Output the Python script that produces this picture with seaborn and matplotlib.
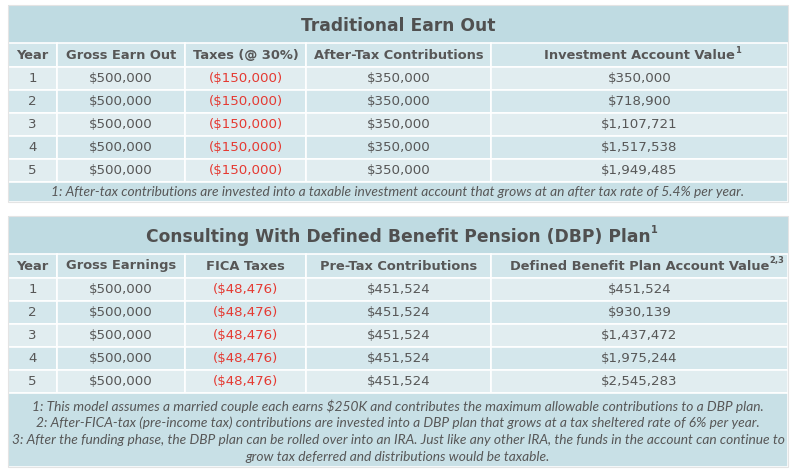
import matplotlib
matplotlib.use("Agg")
import matplotlib.pyplot as plt
import seaborn as sns
from matplotlib.patches import Rectangle

# Table 1: traditional earn out
years = [1, 2, 3, 4, 5]
gross_earn_out = [500000, 500000, 500000, 500000, 500000]
taxes_30 = [150000, 150000, 150000, 150000, 150000]
after_tax_contrib = [350000, 350000, 350000, 350000, 350000]
investment_value = [350000, 718900, 1107721, 1517538, 1949485]

# Table 2: consulting with DBP plan
gross_earnings = [500000, 500000, 500000, 500000, 500000]
fica_taxes = [48476, 48476, 48476, 48476, 48476]
pre_tax_contrib = [451524, 451524, 451524, 451524, 451524]
dbp_value = [451524, 930139, 1437472, 1975244, 2545283]

title1 = "Traditional Earn Out"
headers1 = ["Year", "Gross Earn Out", "Taxes (@ 30%)", "After-Tax Contributions", "Investment Account Value"]
sup1 = ["", "", "", "", "1"]
notes1 = ["1: After-tax contributions are invested into a taxable investment account that grows at an after tax rate of 5.4% per year."]

title2 = "Consulting With Defined Benefit Pension (DBP) Plan"
headers2 = ["Year", "Gross Earnings", "FICA Taxes", "Pre-Tax Contributions", "Defined Benefit Plan Account Value"]
sup2 = ["", "", "", "", "2,3"]
notes2 = [
    "1: This model assumes a married couple each earns $250K and contributes the maximum allowable contributions to a DBP plan.",
    "2: After-FICA-tax (pre-income tax) contributions are invested into a DBP plan that grows at a tax sheltered rate of 6% per year.",
    "3: After the funding phase, the DBP plan can be rolled over into an IRA. Just like any other IRA, the funds in the account can continue to",
    "grow tax deferred and distributions would be taxable.",
]

# layout (pixels)
col_edges = [8, 57, 185, 306, 491, 788]
TXT = "#575757"
RED = "#e53a32"
C_TITLE = "#bfdbe2"
C_HEAD = "#d2e6eb"
C_ROW = ["#e1edf0", "#d4e7ec"]
C_NOTE = "#c8e0e6"

sns.set_theme(style="white")
plt.rcParams["font.family"] = ["DejaVu Sans"]

fig = plt.figure(figsize=(8, 4.74), dpi=100)
ax = fig.add_axes([0, 0, 1, 1])
ax.set_xlim(0, 800)
ax.set_ylim(474, 0)
ax.axis("off")


def money(v, neg=False):
    s = f"${v:,}"
    return f"({s})" if neg else s


def draw_table(top, title, headers, sups, cols, neg_col, notes, title_sup=""):
    x0, x1 = col_edges[0], col_edges[-1]
    title_h, head_h, row_h = 38, 24, 23
    note_h = 20 if len(notes) == 1 else 74
    # title band
    ax.add_patch(Rectangle((x0, top), x1 - x0, title_h, color=C_TITLE, lw=0))
    t = ax.text((x0 + x1) / 2, top + title_h / 2 + 2, title, ha="center", va="center",
                fontsize=12.3, fontweight="bold", color="#505050")
    if title_sup:
        fig.canvas.draw()
        bb = t.get_window_extent().transformed(ax.transData.inverted())
        ax.text(bb.x1 + 1, top + title_h / 2 - 5, title_sup, ha="left", va="center",
                fontsize=7, fontweight="bold", color="#505050")
    y = top + title_h
    # header row
    for i in range(5):
        ax.add_patch(Rectangle((col_edges[i], y), col_edges[i + 1] - col_edges[i], head_h,
                               facecolor=C_HEAD, edgecolor="white", lw=1.2))
        ht = ax.text((col_edges[i] + col_edges[i + 1]) / 2, y + head_h / 2 - 1.5, headers[i],
                     ha="center", va="center_baseline", fontsize=9.4, fontweight="bold", color=TXT)
        if sups[i]:
            fig.canvas.draw()
            bb = ht.get_window_extent().transformed(ax.transData.inverted())
            ax.text(bb.x1 + 0.5, y + head_h / 2 - 5, sups[i], ha="left", va="center",
                    fontsize=6, fontweight="bold", color=TXT)
    y += head_h
    # data rows
    for r in range(len(years)):
        for i in range(5):
            ax.add_patch(Rectangle((col_edges[i], y), col_edges[i + 1] - col_edges[i], row_h,
                                   facecolor=C_ROW[r % 2], edgecolor="white", lw=1.2))
            if i == 0:
                s = str(years[r])
            else:
                s = money(cols[i - 1][r], neg=(i == neg_col))
            ax.text((col_edges[i] + col_edges[i + 1]) / 2, y + row_h / 2 - 1.5, s, ha="center",
                    va="center_baseline", fontsize=9.6, color=RED if i == neg_col else TXT)
        y += row_h
    # footnotes
    ax.add_patch(Rectangle((x0, y), x1 - x0, note_h, facecolor=C_NOTE, edgecolor="white", lw=1.2))
    if len(notes) == 1:
        ax.text((x0 + x1) / 2, y + note_h / 2, notes[0], ha="center", va="center",
                fontsize=9.9, style="italic", color=TXT, family="Lato")
    else:
        for k, n in enumerate(notes):
            ax.text((x0 + x1) / 2, y + 13 + k * 17, n, ha="center", va="center",
                    fontsize=9.9, style="italic", color=TXT, family="Lato")
    # faint outline
    ax.add_patch(Rectangle((x0, top), x1 - x0, y + note_h - top, fill=False,
                           edgecolor="#e4e4e4", lw=0.8))


draw_table(5, title1, headers1, sup1,
           [gross_earn_out, taxes_30, after_tax_contrib, investment_value], 2, notes1)
draw_table(216, title2, headers2, sup2,
           [gross_earnings, fica_taxes, pre_tax_contrib, dbp_value], 2, notes2, title_sup="1")

fig.savefig("out.png", dpi=100, facecolor="white")
